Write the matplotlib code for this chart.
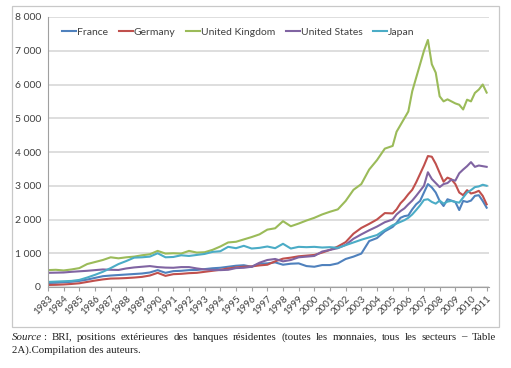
import matplotlib
matplotlib.use("Agg")
import matplotlib.pyplot as plt
import numpy as np
from matplotlib.patches import Rectangle
from matplotlib.ticker import FuncFormatter, MultipleLocator

plt.rcParams["font.family"] = ["Lato", "DejaVu Sans"]

# time axis: half-yearly up to 2005, quarterly afterwards
years = [1983.0, 1983.5, 1984.0, 1984.5, 1985.0, 1985.5, 1986.0, 1986.5, 1987.0, 1987.5,
         1988.0, 1988.5, 1989.0, 1989.5, 1990.0, 1990.5, 1991.0, 1991.5, 1992.0, 1992.5,
         1993.0, 1993.5, 1994.0, 1994.5, 1995.0, 1995.5, 1996.0, 1996.5, 1997.0, 1997.5,
         1998.0, 1998.5, 1999.0, 1999.5, 2000.0, 2000.5, 2001.0, 2001.5, 2002.0, 2002.5,
         2003.0, 2003.5, 2004.0, 2004.5, 2005.0,
         2005.25, 2005.5, 2005.75, 2006.0, 2006.25, 2006.5, 2006.75, 2007.0, 2007.25, 2007.5,
         2007.75, 2008.0, 2008.25, 2008.5, 2008.75, 2009.0, 2009.25, 2009.5, 2009.75, 2010.0,
         2010.25, 2010.5, 2010.75, 2011.0]

france = [120, 125, 140, 155, 180, 220, 270, 320, 340, 355,
          370, 385, 400, 430, 500, 420, 470, 480, 500, 505,
          530, 555, 570, 600, 630, 645, 600, 690, 700, 730,
          660, 690, 700, 620, 600, 650, 650, 700, 830, 900,
          990, 1360, 1450, 1650, 1780,
          1900, 2050, 2100, 2120, 2300, 2450, 2550, 2800, 3050, 2950,
          2800, 2550, 2400, 2600, 2560, 2520, 2280, 2550, 2520, 2560,
          2700, 2720, 2550, 2350]

germany = [60, 65, 75, 90, 110, 150, 190, 225, 250, 255,
           265, 280, 300, 340, 420, 330, 380, 390, 410, 420,
           450, 480, 510, 550, 580, 600, 610, 640, 660, 760,
           840, 870, 910, 930, 950, 1020, 1100, 1200, 1330, 1580,
           1750, 1870, 2000, 2190, 2180,
           2300, 2480, 2600, 2750, 2880, 3100, 3350, 3600, 3880, 3860,
           3650, 3380, 3120, 3240, 3190, 3050, 2800, 2720, 2870, 2770,
           2800, 2850, 2700, 2450]

uk = [500, 510, 490, 520, 560, 680, 740, 800, 880, 850,
      880, 900, 940, 970, 1070, 990, 1000, 990, 1070, 1020,
      1030, 1100, 1200, 1320, 1340, 1410, 1480, 1560, 1700, 1740,
      1950, 1800, 1880, 1970, 2050, 2150, 2230, 2300, 2550, 2880,
      3050, 3480, 3760, 4100, 4180,
      4600, 4800, 5000, 5200, 5800, 6200, 6600, 7000, 7320, 6600,
      6350, 5650, 5500, 5560, 5500, 5440, 5400, 5260, 5550, 5500,
      5750, 5850, 6000, 5760]

us = [420, 425, 430, 450, 465, 480, 500, 520, 510, 505,
      550, 580, 600, 620, 590, 575, 570, 590, 590, 550,
      520, 505, 500, 510, 560, 570, 600, 720, 800, 830,
      760, 800, 880, 900, 920, 1050, 1100, 1150, 1250, 1430,
      1560, 1680, 1790, 1920, 2000,
      2150, 2250, 2330, 2450, 2560, 2700, 2850, 3000, 3400, 3200,
      3080, 2960, 3050, 3080, 3180, 3150, 3370, 3480, 3580, 3700,
      3560, 3600, 3580, 3560]

japan = [150, 160, 170, 180, 210, 280, 360, 450, 560, 680,
         770, 870, 880, 900, 1000, 880, 890, 940, 920, 950,
         980, 1040, 1060, 1190, 1150, 1220, 1140, 1160, 1200, 1150,
         1280, 1140, 1190, 1180, 1190, 1170, 1180, 1160, 1240, 1320,
         1400, 1470, 1540, 1690, 1830,
         1880, 1930, 1980, 2050, 2150, 2280, 2420, 2580, 2600, 2520,
         2470, 2560, 2470, 2530, 2550, 2520, 2500, 2650, 2800, 2870,
         2960, 2980, 3030, 3000]

series = [
    ("France", france, "#4F81BD"),
    ("Germany", germany, "#C0504D"),
    ("United Kingdom", uk, "#9BBB59"),
    ("United States", us, "#8064A2"),
    ("Japan", japan, "#4BACC6"),
]
tick_years = list(range(1983, 2012))

W, H = 511, 368
fig = plt.figure(figsize=(W / 100, H / 100), dpi=100)

# light frame around the chart
fig.patches.append(Rectangle((12 / W, 1 - 327 / H), 487 / W, 321 / H,
                             transform=fig.transFigure, fill=False,
                             edgecolor="#c8c8c8", linewidth=0.9))

ax = fig.add_axes([48 / W, 1 - 287 / H, 441 / W, 270 / H])
for name, vals, col in series:
    ax.plot(years, vals, color=col, linewidth=1.5, label=name)

ax.set_xlim(1983, 2011.15)
ax.set_ylim(0, 8000)
ax.yaxis.set_major_locator(MultipleLocator(1000))
ax.yaxis.set_major_formatter(FuncFormatter(lambda v, p: f"{int(v):,}".replace(",", " ")))
ax.set_xticks(tick_years)
ax.set_xticklabels([str(y) for y in tick_years], rotation=45, ha="right",
                   rotation_mode="anchor", fontsize=7, color="#404040")
ax.tick_params(axis="y", length=0, labelsize=7.5, colors="#404040", pad=5)
ax.tick_params(axis="x", length=3, color="#a0a0a0", pad=2)
ax.grid(axis="y", color="#d4d4d4", linewidth=1.1)
ax.set_axisbelow(True)
for s in ["top", "right"]:
    ax.spines[s].set_visible(False)
ax.spines["left"].set_color("#a0a0a0")
ax.spines["bottom"].set_color("#a0a0a0")

ax.legend(loc="center left", bbox_to_anchor=(14 / 441, 1 - 15 / 270), ncol=5, frameon=False,
          fontsize=7.5, handlelength=1.35, handletextpad=0.1, columnspacing=1.0,
          borderaxespad=0, borderpad=0, labelcolor="#404040")

# justified source note
fig.canvas.draw()
renderer = fig.canvas.get_renderer()
x0, x1 = 12 / W, 499 / W
line1 = "BRI, positions extérieures des banques résidentes (toutes les monnaies, tous les secteurs – Table".split(" ")
words = [("Source", "italic"), (":", "normal")] + [(w, "normal") for w in line1]
items = []
for w, st in words:
    t = fig.text(0, 1 - 337 / H, w, fontsize=7.8, family="Liberation Serif",
                 style=st, va="center", ha="left", color="#222222")
    items.append(t)
fig.canvas.draw()
widths = [t.get_window_extent(renderer).width / W for t in items]
gap = (x1 - x0 - sum(widths)) / (len(items) - 1)
gap_colon = 0.3 * gap
xpos = x0
for i, t in enumerate(items):
    t.set_x(xpos)
    xpos += widths[i] + (gap_colon if i == 0 else gap)
fig.text(x0, 1 - 350 / H, "2A).Compilation des auteurs.", fontsize=7.8,
         family="Liberation Serif", va="center", ha="left", color="#222222")

fig.savefig("out.png", dpi=100)
